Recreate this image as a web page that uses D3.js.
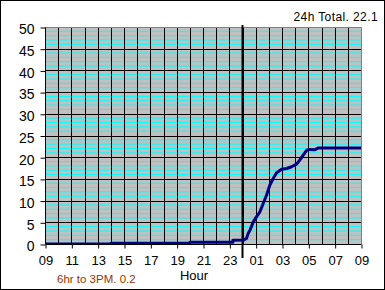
<!DOCTYPE html>
<html>
<head>
<meta charset="utf-8">
<script src="https://cdn.jsdelivr.net/npm/d3@7"></script>
<style>
html,body{margin:0;padding:0;background:#fff;}
svg{display:block;font-family:Arial,"Liberation Sans",sans-serif;}
</style>
</head>
<body>
<svg id="chart" width="385" height="290"></svg>
<script>
// Hours elapsed since 09:00 (0..24) and accumulated rainfall
const hours = [0, 5, 5, 11, 11, 14.27, 14.27, 15.06, 15.31, 15.44, 15.57, 15.82, 16.07, 16.32, 16.58, 16.83, 17.08, 17.33, 17.59, 17.97, 18.35, 18.73, 19.11, 19.36, 19.61, 19.87, 20.12, 20.5, 20.73, 24];
const rain  = [0, 0, 0.2, 0.2, 0.4, 0.4, 0.85, 0.9, 1.3, 2.5, 3.2, 5.1, 6.3, 7.4, 9.4, 11.3, 13.6, 15.1, 16.4, 17.2, 17.4, 17.8, 18.4, 19.4, 20.5, 21.6, 21.8, 21.7, 22.1, 22.1];
const xTickHours = [0, 2, 4, 6, 8, 10, 12, 14, 16, 18, 20, 22, 24];
const xTickLabels = ["09","11","13","15","17","19","21","23","01","03","05","07","09"];
const yTicks = [0, 5, 10, 15, 20, 25, 30, 35, 40, 45, 50];
const midnightHour = 15;
const totalText = "24h Total. 22.1";
const partText = "6hr to 3PM. 0.2";
const xTitle = "Hour";

const svg = d3.select("#chart");
const L = 45, R = 361, T = 27, B = 244;
const x = d3.scaleLinear().domain([0, 24]).range([L, R]);
const y = d3.scaleLinear().domain([0, 50]).range([B, T]);

// outer frame
svg.append("rect").attr("x", 0.5).attr("y", 0.5).attr("width", 384).attr("height", 289)
  .attr("fill", "#fff").attr("stroke", "#000");

// plot background
svg.append("rect").attr("x", L).attr("y", T).attr("width", R - L).attr("height", B - T)
  .attr("fill", "#C0C0C0");

// minor horizontal gridlines (every 1)
const minor = d3.range(1, 50).filter(v => v % 5 !== 0);
svg.append("g").selectAll("line").data(minor).join("line")
  .attr("x1", L).attr("x2", R).attr("y1", d => y(d)).attr("y2", d => y(d))
  .attr("stroke", "#00FFFF").attr("stroke-width", 1);

// major horizontal gridlines
svg.append("g").selectAll("line").data(yTicks.filter(v => v > 0 && v < 50)).join("line")
  .attr("x1", L).attr("x2", R).attr("y1", d => Math.round(y(d)) + 0.5).attr("y2", d => Math.round(y(d)) + 0.5)
  .attr("stroke", "#000").attr("stroke-width", 1);

// vertical gridlines every hour
svg.append("g").selectAll("line").data(d3.range(1, 24)).join("line")
  .attr("y1", T).attr("y2", B).attr("x1", d => Math.round(x(d)) + 0.5).attr("x2", d => Math.round(x(d)) + 0.5)
  .attr("stroke", "#000").attr("stroke-width", 1);

// plot border (gray top/right)
svg.append("path")
  .attr("d", `M${L},${T + 0.5}H${R + 0.5}V${B}`)
  .attr("fill", "none").attr("stroke", "#808080");

// axes
const yAxis = d3.axisLeft(y).tickValues(yTicks).tickSize(5).tickPadding(6).tickFormat(d3.format("d"));
const gy = svg.append("g").attr("transform", `translate(${L + 0.5},0.5)`).call(yAxis);
gy.select(".domain").attr("stroke", "#000").attr("d", `M0,${T}V${B}`);
gy.selectAll(".tick line").attr("stroke", "#000");
gy.selectAll("text").attr("font-size", 14).attr("fill", "#000").attr("dy", "0.45em")
  .attr("font-family", "Arial, 'Liberation Sans', sans-serif");

const xAxis = d3.axisBottom(x).tickValues(xTickHours).tickSize(4).tickPadding(7)
  .tickFormat((d, i) => xTickLabels[i]);
const gx = svg.append("g").attr("transform", `translate(0.5,${B + 0.5})`).call(xAxis);
gx.select(".domain").attr("stroke", "#000").attr("d", `M${L},0H${R}`);
gx.selectAll(".tick line").attr("stroke", "#000");
gx.selectAll("text").attr("font-size", 13).attr("fill", "#000")
  .attr("font-family", "Arial, 'Liberation Sans', sans-serif");

// midnight marker
svg.append("line")
  .attr("x1", x(midnightHour)).attr("x2", x(midnightHour))
  .attr("y1", 25).attr("y2", 258)
  .attr("stroke", "#000").attr("stroke-width", 2);

// data line
svg.append("clipPath").attr("id", "clip").append("rect")
  .attr("x", L).attr("y", T).attr("width", R - L + 2).attr("height", B - T);
const pts = hours.map((h, i) => [h, rain[i]]);
svg.append("path")
  .datum(pts)
  .attr("clip-path", "url(#clip)")
  .attr("fill", "none").attr("stroke", "#000080").attr("stroke-width", 3)
  .attr("stroke-linejoin", "round")
  .attr("d", d3.line().x(d => x(d[0])).y(d => y(d[1])));

// texts
svg.append("text").attr("x", 378).attr("y", 21).attr("text-anchor", "end")
  .attr("font-size", 12).attr("letter-spacing", 0.4).attr("fill", "#000").text(totalText);
svg.append("text").attr("x", 194).attr("y", 280).attr("text-anchor", "middle")
  .attr("font-size", 13).attr("fill", "#000").text(xTitle);
svg.append("text").attr("x", 57).attr("y", 283)
  .attr("font-size", 11.5).attr("fill", "#993300").text(partText);
</script>
</body>
</html>
